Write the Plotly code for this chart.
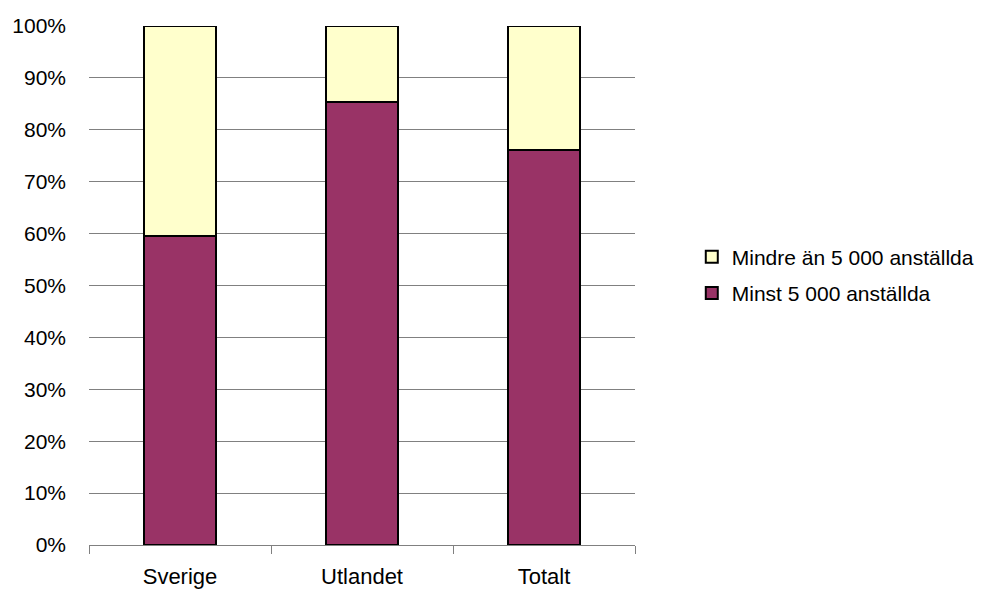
import plotly.graph_objects as go

categories = ["Sverige", "Utlandet", "Totalt"]
minst = [0.596, 0.853, 0.761]
mindre = [0.404, 0.147, 0.239]
series_names = ["Minst 5 000 anställda", "Mindre än 5 000 anställda"]
y_ticks = [i / 10 for i in range(11)]
y_tick_labels = [f"{i*10}%" for i in range(11)]

fig = go.Figure()
fig.add_trace(go.Bar(x=categories, y=minst, name=series_names[0], legendgroup="a", legendrank=2,
                     marker=dict(color="#993366", line=dict(color="black", width=2)), width=0.4))
fig.add_trace(go.Bar(x=categories, y=mindre, name=series_names[1], legendgroup="b", legendrank=1,
                     marker=dict(color="#FFFFCC", line=dict(color="black", width=2)), width=0.4))

fig.update_layout(
    barmode="stack",
    width=999, height=590,
    margin=dict(l=81, r=372, t=18, b=53, autoexpand=False),
    paper_bgcolor="white", plot_bgcolor="white",
    font=dict(family="Liberation Sans, Arial, sans-serif", size=21, color="black"),
    legend=dict(x=1.104, y=0.52, xanchor="left", yanchor="middle",
                traceorder="grouped", tracegroupgap=6,
                font=dict(size=21), itemwidth=30),
    showlegend=True,
)
fig.update_yaxes(range=[0, 1], tickvals=y_ticks, ticktext=y_tick_labels,
                 showgrid=True, gridcolor="#808080", gridwidth=1, automargin=False,
                 showline=False, zeroline=False, ticks="", ticklabelstandoff=22)
fig.update_xaxes(showline=True, linecolor="#808080", linewidth=1, automargin=False,
                 ticks="outside", tickson="boundaries", ticklen=8, tickcolor="#808080",
                 ticklabelstandoff=12, range=[-0.5, 2.5], tickfont=dict(size=22))

fig.write_html("out.html")
